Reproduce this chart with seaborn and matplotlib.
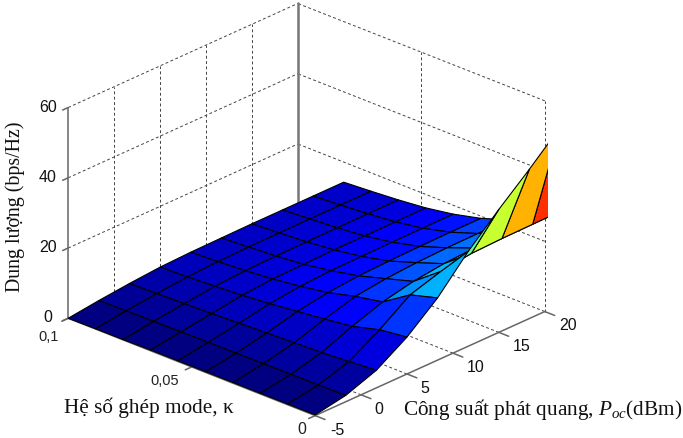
import numpy as np
import matplotlib
matplotlib.use("Agg")
import matplotlib.pyplot as plt
from matplotlib.colors import Normalize
from matplotlib.patches import Rectangle
from matplotlib.transforms import IdentityTransform
import seaborn as sns

# surface grid
power = [-5, -1.67, 1.67, 5, 8.33, 11.67, 15, 18.33, 21.67, 25]
kappa = [0, 0.0111, 0.0222, 0.0333, 0.0444, 0.0556, 0.0667, 0.0778, 0.0889, 0.1]

# capacity, one row per kappa value
cap_k0 = [0.2, 1.8, 5.0, 10.5, 17.7, 27.0, 35.0, 42.5, 50.5, 59.0]
cap_k1 = [0.2, 1.7, 4.4, 9.5, 15.5, 18.2, 19.4, 19.7, 19.8, 19.9]
cap_k2 = [0.2, 1.66, 3.9, 7.4, 10.4, 12.3, 13.4, 13.9, 14.2, 14.3]
cap_k3 = [0.2, 1.6, 3.6, 6.4, 8.9, 10.0, 10.6, 10.9, 11.0, 11.0]
cap_k4 = [0.2, 1.5, 3.3, 5.5, 6.9, 7.7, 8.0, 8.2, 8.3, 8.3]
cap_k5 = [0.2, 1.5, 3.0, 4.6, 5.6, 6.1, 6.2, 6.3, 6.35, 6.4]
cap_k6 = [0.2, 1.4, 2.65, 3.9, 4.6, 4.8, 5.0, 5.0, 5.05, 5.1]
cap_k7 = [0.1, 1.3, 2.4, 3.4, 3.9, 4.1, 4.2, 4.25, 4.3, 4.3]
cap_k8 = [0.1, 1.25, 2.2, 3.0, 3.4, 3.6, 3.65, 3.7, 3.7, 3.7]
cap_k9 = [0.0, 1.1, 2.0, 2.7, 3.0, 3.1, 3.2, 3.2, 3.2, 3.2]

power_ticks = [-5, 0, 5, 10, 15, 20]
kappa_ticks = [0, 0.05, 0.1]
cap_ticks = [0, 20, 40, 60]
kappa_tick_labels = ["0", "0,05", "0,1"]

W, H = 683, 439

sns.set_theme(style="white")
plt.rcParams["font.family"] = ["Liberation Sans", "DejaVu Sans"]
plt.rcParams["mathtext.fontset"] = "custom"
plt.rcParams["mathtext.it"] = "Liberation Serif:italic"
plt.rcParams["mathtext.rm"] = "Liberation Serif"

fig = plt.figure(figsize=(W / 100, H / 100), dpi=100)
side = 515
cx, cy = 299.5, 221.5
ax = fig.add_axes([(cx - side / 2) / W, (cy - side / 2) / H, side / W, side / H], projection="3d")
ax.set_proj_type("ortho")
ax.view_init(elev=25, azim=-137)
ax.set_box_aspect((333, 334, 230), zoom=1)
ax.set_xlim(-5, 20, view_margin=0)
ax.set_ylim(0, 0.1, view_margin=0)
ax.set_zlim(0, 60, view_margin=0)
ax.set_axis_off()
ax.computed_zorder = False

# walls and floor, dashed grid
grid = dict(color="#444444", lw=0.7, ls=(0, (3, 2.5)), zorder=1)
for c in cap_ticks:
    if c > 0:
        ax.plot([-5, 20], [0.1, 0.1], [c, c], **grid)
        ax.plot([20, 20], [0, 0.1], [c, c], **grid)
for p in power_ticks[1:]:
    ax.plot([p, p], [0, 0.1], [0, 0], **grid)
    ax.plot([p, p], [0.1, 0.1], [0, 60], **grid)
for k in kappa_ticks[1:]:
    ax.plot([-5, 20], [k, k], [0, 0], **grid)
ax.plot([20, 20], [0.05, 0.05], [0, 60], **grid)
ax.plot([20, 20], [0, 0], [0, 60], **grid)

# solid axis lines
line = dict(color="#666666", lw=1.1, zorder=1)
ax.plot([-5, -5], [0.1, 0.1], [0, 60], **line)
ax.plot([20, 20], [0.1, 0.1], [0, 60], color="#777777", lw=1.8, zorder=1)
ax.plot([-5, -5], [0, 0.1], [0, 0], **line)
ax.plot([-5, 20], [0, 0], [0, 0], **line)
# tick marks
for c in cap_ticks:
    ax.plot([-5.6, -5], [0.1, 0.1], [c, c], **line)
for p in power_ticks:
    ax.plot([p, p], [-0.004, 0], [0, 0], **line)
for k in kappa_ticks:
    ax.plot([-5.7, -5], [k, k], [0, 0], **line)

X, Y = np.meshgrid(power, kappa)
Z = np.array([cap_k0, cap_k1, cap_k2, cap_k3, cap_k4, cap_k5, cap_k6, cap_k7, cap_k8, cap_k9])
jet = matplotlib.colormaps["jet"]
colors = jet(Normalize(0, 59)(Z))
surf = ax.plot_surface(X, Y, Z, facecolors=colors, rstride=1, cstride=1, shade=False,
                       edgecolor="black", linewidth=0.8, zorder=2)
surf.set_clip_path(Rectangle((0, 0), 548, H, transform=IdentityTransform()))


def put(x, y, s, **kw):
    # x, y in pixels from the top left
    fig.text(x / W, 1 - y / H, s, ha=kw.pop("ha", "center"), va=kw.pop("va", "center"), **kw)


for c, y in zip(cap_ticks, [320, 250, 180, 110]):
    put(48, y - 2, str(c), fontsize=11.5, color="#111111")
for p, (x, y) in zip(power_ticks, [(337, 431), (379, 410), (425, 389), (476, 368), (522, 347), (568, 326)]):
    put(x, y, str(p), fontsize=11.5, color="#111111")
for lab, (x, y), fs in zip(kappa_tick_labels, [(302, 430), (165, 381), (49, 337)], [11.5, 10.5, 10.5]):
    put(x, y, lab, fontsize=fs, color="#222222")

serif = ["Liberation Serif", "DejaVu Serif"]
put(15, 207, "Dung lượng (bps/Hz)", rotation=90, fontsize=14.3, family=serif, color="#111111")
put(64, 408, "Hệ số ghép mode, κ", ha="left", fontsize=15.3, family=serif, color="#111111")
put(403, 410, "Công suất phát quang, $P_{oc}$(dBm)", ha="left", fontsize=15.3, family=serif, color="#111111")

fig.savefig("out.png", dpi=100)
